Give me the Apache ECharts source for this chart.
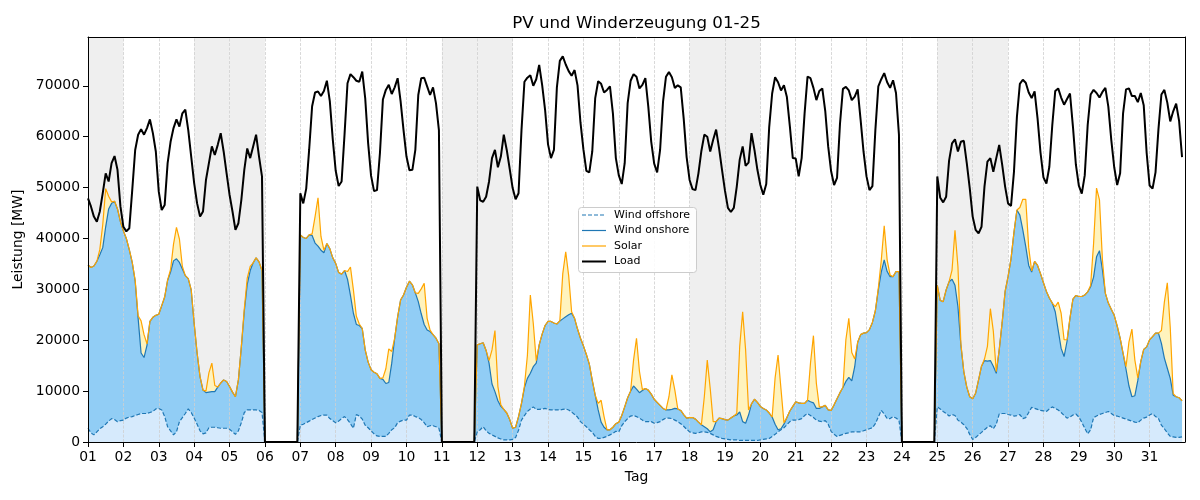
<!DOCTYPE html>
<html>
<head>
<meta charset="utf-8">
<script src="https://cdn.jsdelivr.net/npm/echarts@6/dist/echarts.min.js"></script>
<style>
html,body{margin:0;padding:0;background:#fff;}
#chart{width:1200px;height:500px;}
</style>
</head>
<body>
<div id="chart"></div>
<script>
// ---------- data (values in 1000 MW, one value every 2 hours, 12 per day) ----------
const dayLabels = ['01','02','03','04','05','06','07','08','09','10','11','12','13','14','15','16',
                   '17','18','19','20','21','22','23','24','25','26','27','28','29','30','31'];
const shadedDays = [1, 4, 5, 11, 12, 18, 19, 25, 26];
const yTicks = [0, 10000, 20000, 30000, 40000, 50000, 60000, 70000];
const seriesNames = ['Wind offshore', 'Wind onshore', 'Solar', 'Load'];

const windOffshore = [
 2.7,1.8,1.4,2.0,2.6,3.0,3.5,4.1,4.6,4.4,4.0,4.2,
 4.3,4.7,4.9,5.0,5.2,5.4,5.6,5.6,5.6,5.8,6.0,6.5,
 6.6,6.3,5.0,3.0,2.2,1.4,2.0,4.0,4.8,5.6,6.5,5.8,
 4.7,3.5,2.2,1.6,1.8,2.8,2.9,2.9,2.8,2.7,2.7,2.7,
 2.5,2.0,1.5,2.2,3.8,5.8,6.3,6.3,6.3,6.3,6.2,5.8,
 0,0,0,0,0,0,0,0,0,0,0,0,
 3.3,3.5,3.8,4.1,4.4,4.7,5.0,5.2,5.3,5.3,4.6,4.2,
 3.8,4.1,4.6,5.0,4.4,3.6,2.7,5.4,5.1,4.5,3.3,2.8,
 2.2,1.6,1.2,1.1,1.1,1.1,1.7,2.4,2.8,3.8,4.1,4.3,
 4.3,5.3,5.3,5.0,4.8,4.4,3.8,3.0,3.2,3.2,3.0,2.7,
 0,0,0,0,0,0,0,0,0,0,0,0,
 2.0,2.4,3.0,2.2,1.7,1.4,1.1,0.8,0.6,0.4,0.4,0.4,
 0.5,0.9,2.3,4.3,5.2,6.0,6.5,6.9,6.4,6.4,6.5,6.6,
 6.4,6.3,6.3,6.3,6.3,6.4,6.5,6.3,5.9,5.4,4.9,4.0,
 3.5,3.0,2.4,1.9,1.1,0.7,0.7,0.9,1.1,1.4,1.7,2.1,
 2.0,3.2,4.0,4.6,5.1,5.2,5.0,4.7,4.3,4.0,4.0,4.0,
 3.7,3.8,4.0,4.4,4.7,4.7,4.6,4.3,4.0,3.6,3.1,2.5,
 2.0,1.8,1.7,1.8,2.0,2.0,1.9,1.7,1.4,1.1,0.9,0.7,
 0.6,0.5,0.4,0.4,0.4,0.3,0.3,0.3,0.3,0.3,0.3,0.3,
 0.4,0.5,0.6,0.7,1.1,1.5,2.0,2.4,2.8,3.4,4.0,4.3,
 4.3,4.4,4.6,5.2,5.6,5.2,4.8,4.3,4.1,4.0,4.2,3.5,
 2.1,1.5,1.1,1.3,1.5,1.7,1.8,2.0,2.0,2.0,2.0,2.2,
 2.4,2.6,2.8,3.6,4.9,6.2,5.5,4.6,4.6,5.0,4.7,4.3,
 0,0,0,0,0,0,0,0,0,0,0,0,
 6.9,6.5,6.0,5.6,5.1,5.4,5.2,4.3,3.9,3.4,2.7,1.5,
 0.5,0.9,1.4,1.9,2.4,2.9,3.2,2.6,3.5,5.5,5.6,5.6,
 5.4,5.3,5.1,5.2,5.4,4.6,4.8,5.8,6.8,6.6,6.4,6.2,
 6.1,6.0,6.5,6.9,6.6,6.3,5.8,5.2,4.7,4.9,5.3,5.5,
 4.9,3.9,2.7,1.6,2.4,4.8,5.1,5.4,5.6,5.8,6.0,5.6,
 5.2,5.1,4.9,4.7,4.5,4.3,4.1,3.9,3.8,4.3,4.7,4.9,
 5.3,5.6,5.0,4.6,3.3,2.6,1.8,1.1,1.0,0.9,0.9,1.0
];

const windOnshore = [
 32.1,32.5,33.2,33.5,34.2,35.2,38.8,41.7,42.3,42.9,41.8,39.1,
 37.2,35.3,32.9,30.3,26.4,18.9,11.9,11.0,13.4,17.9,18.5,18.4,
 18.5,20.5,23.5,28.8,31.2,34.2,34.0,31.3,29.2,27.1,25.6,24.1,
 18.6,14.0,10.6,8.6,7.9,7.0,7.0,7.0,8.0,8.9,9.5,9.2,
 8.4,7.8,7.4,10.0,14.9,19.9,24.7,27.4,28.9,29.9,29.2,27.9,
 0,0,0,0,0,0,0,0,0,0,0,0,
 37.4,36.7,36.2,36.6,36.2,34.4,33.5,32.5,31.9,33.7,33.4,32.0,
 31.3,29.2,28.4,28.7,27.6,25.2,22.6,17.7,17.8,17.8,14.8,12.9,
 12.0,12.1,12.2,11.4,11.2,10.4,10.0,13.1,17.6,20.8,23.8,24.6,
 26.1,26.3,25.6,24.3,22.8,20.8,19.3,19.0,18.5,17.9,17.4,16.6,
 0,0,0,0,0,0,0,0,0,0,0,0,
 17.1,16.9,16.5,15.8,13.8,10.0,8.8,7.3,6.4,6.0,5.3,4.0,
 2.2,2.0,2.7,3.3,5.5,6.5,7.0,7.9,9.1,12.7,14.7,16.3,
 17.3,17.4,17.1,16.9,17.5,17.8,18.1,18.7,19.4,18.9,17.3,16.4,
 15.4,14.2,12.9,10.2,8.1,5.6,3.2,2.0,1.3,1.0,1.2,1.5,
 1.9,2.0,2.9,4.1,4.9,5.8,5.4,5.0,5.8,6.5,6.2,5.4,
 4.7,4.0,3.2,2.2,1.6,1.6,1.8,2.3,2.5,2.6,2.3,2.2,
 2.8,3.0,2.8,2.1,1.4,1.0,0.7,0.3,1.0,2.9,3.8,3.9,
 3.8,3.8,4.3,4.7,4.9,5.6,3.7,3.4,5.0,7.2,8.1,7.5,
 6.6,6.1,5.7,5.0,3.8,2.0,0.4,0.2,0.7,1.4,2.1,2.7,
 3.6,3.3,3.0,2.4,2.6,2.7,2.9,2.3,2.5,2.9,3.0,2.8,
 4.1,5.8,7.4,8.4,9.2,10.2,10.9,10.0,12.8,17.6,19.1,19.2,
 19.1,19.5,20.7,22.2,25.0,27.2,30.3,28.9,27.9,27.5,28.8,29.2,
 0,0,0,0,0,0,0,0,0,0,0,0,
 23.9,21.3,21.6,24.3,26.4,26.6,25.6,22.3,15.1,10.4,8.1,7.4,
 8.0,8.7,10.8,13.0,13.6,13.0,12.8,12.3,10.0,12.6,17.9,24.0,
 27.1,30.7,36.1,40.4,39.2,37.1,33.6,28.9,26.6,28.9,28.3,26.9,
 25.2,23.6,21.8,20.4,19.0,15.7,12.6,11.6,15.1,19.5,22.8,23.3,
 23.7,24.7,26.2,27.9,28.1,27.6,31.3,32.2,28.2,23.4,21.3,20.5,
 19.7,17.7,15.5,12.7,9.8,6.7,4.8,5.2,8.3,11.5,13.5,13.8,
 14.8,15.1,16.4,16.8,16.1,13.9,12.7,11.4,8.2,8.0,7.8,7.1
];

const solar = [
 0,0,0,0,1.0,4.5,7.5,2.5,0.3,0,0,0,
 0,0,0,0,0.2,0.5,6.3,4.5,0.3,0,0,0,
 0,0,0,0,0.5,3.3,6.2,4.6,0.5,0,0,0,
 0,0,0,0,0.3,3.8,5.6,1.2,0,0,0,0,
 0,0,0,0,0,0.5,1.2,0.8,0,0,0,0,
 0,0,0,0,0,0,0,0,0,0,0,0,
 0,0,0,0,0.3,5.2,9.5,2.7,0.5,0,0,0,
 0,0,0,0,1.5,5.6,4.6,1.6,0.3,0,0,0,
 0,0,0,0,0.3,2.9,6.6,2.3,0,0,0,0,
 0,0,0,0,1.6,4.9,8.1,2.3,0.3,0,0,0,
 0,0,0,0,0,0,0,0,0,0,0,0,
 0,0,0,0,0.5,6.7,12.0,2.8,0.3,0,0,0,
 0,0,0,0,0.3,4.5,15.4,8.5,0.5,0,0,0,
 0,0,0,0,0,8.9,12.8,7.7,0.3,0,0,0,
 0,0,0,0,0,1.3,4.3,2.1,0,0,0,0,
 0,0,0,0,0,5.1,10.0,4.2,0.2,0,0,0,
 0,0,0,0,0,2.6,6.8,3.6,0,0,0,0,
 0,0,0,0,0,5.9,13.5,8.5,1.6,0,0,0,
 0,0,0,0,0.3,12.9,21.6,14.4,1.0,0,0,0,
 0,0,0,0,0,9.1,14.7,7.8,0.3,0,0,0,
 0,0,0,0,0,7.6,13.2,4.9,0.3,0,0,0,
 0,0,0,0,0,8.2,11.6,5.6,1.5,0,0,0,
 0,0,0,0,0.3,2.3,6.7,2.3,0.3,0,0,0,
 0,0,0,0,0,0,0,0,0,0,0,0,
 0,0,0,0,0,1.8,10.8,7.9,0.3,0,0,0,
 0,0,0,0,0.3,2.9,10.2,6.9,0.3,0,0,0,
 0,0,0,0,1.5,6.0,9.3,3.5,0.2,0,0,0,
 0,0,0,0,1.0,5.5,6.9,3.3,0.3,0,0,0,
 0,0,0,0,0.3,6.6,13.5,10.0,2.0,0,0,0,
 0,0,0,0,0.5,8.7,13.3,7.0,0.5,0,0,0,
 0,0,0,0,2.5,11.0,16.8,10.0,0.3,0,0,0
];

const load = [
 47.9,46.3,44.3,43.3,45.3,48.9,52.8,51.2,54.8,56.2,53.5,46.3,
 42.3,41.4,42.0,49.5,57.4,60.4,61.5,60.4,61.7,63.4,60.7,57.1,
 49.2,45.6,46.6,54.8,59.0,61.7,63.4,62.0,64.6,65.3,61.3,56.1,
 50.9,46.9,44.3,45.3,51.5,54.8,58.1,56.4,58.4,60.7,57.1,52.8,
 48.6,45.3,41.7,43.0,47.6,53.5,57.7,55.8,58.1,60.4,56.1,52.2,
 0,0,0,0,0,0,0,0,0,0,0,0,
 48.9,46.9,49.8,57.5,66.0,68.7,68.9,68.0,69.0,71.0,67.0,59.5,
 53.3,50.3,51.2,60.5,70.5,72.3,71.7,71.0,70.8,72.8,67.6,58.7,
 52.3,49.3,49.5,56.8,67.3,69.2,70.2,68.4,69.7,71.5,67.0,61.3,
 56.1,53.4,53.5,57.4,68.2,71.5,71.6,69.9,68.2,69.7,66.6,61.3,
 0,0,0,0,0,0,0,0,0,0,0,0,
 50.2,47.5,47.2,48.2,51.2,55.8,57.4,54.0,56.1,60.4,57.4,53.7,
 49.9,47.7,48.9,61.3,70.8,71.6,72.1,70.0,71.3,74.1,70.2,65.3,
 58.5,55.8,57.4,69.7,74.9,75.8,74.2,72.9,72.0,73.1,70.1,62.8,
 57.5,53.3,53.0,57.1,67.6,70.9,70.4,68.7,69.2,69.9,64.6,55.8,
 52.4,50.7,54.8,66.6,71.0,72.3,71.8,69.5,70.2,71.5,65.9,59.0,
 54.7,53.0,57.4,66.9,71.8,72.7,71.7,69.6,70.1,69.7,63.6,56.0,
 51.5,49.7,49.5,52.8,57.2,60.4,60.0,57.1,59.4,61.4,57.7,53.5,
 49.4,46.0,45.2,46.0,50.2,55.5,58.1,54.3,54.9,60.7,57.4,53.5,
 50.5,48.6,50.7,61.9,68.5,71.7,70.7,69.1,70.1,67.8,62.1,55.8,
 55.7,52.2,55.8,64.6,71.8,71.5,69.6,67.2,69.0,69.5,65.1,58.1,
 53.2,50.5,51.9,62.5,69.4,69.8,69.1,67.2,67.9,69.3,63.3,57.0,
 52.2,49.5,50.3,61.3,69.9,71.3,72.5,70.7,69.6,71.1,68.6,60.4,
 0,0,0,0,0,0,0,0,0,0,0,0,
 52.2,48.0,47.1,48.2,55.3,58.7,59.5,57.1,59.0,59.2,54.8,49.9,
 44.3,41.7,41.0,42.3,50.2,55.1,55.8,53.1,55.8,58.4,54.5,50.2,
 46.9,46.4,53.1,63.9,70.4,71.2,70.6,68.7,67.6,68.9,63.6,56.9,
 52.0,50.8,54.1,62.3,69.0,69.5,67.7,66.3,67.4,68.5,62.0,54.5,
 50.4,48.8,52.4,62.3,68.3,69.2,68.6,67.7,68.8,69.6,65.9,59.4,
 54.0,50.5,52.8,64.6,69.3,69.5,68.0,68.0,66.8,68.6,66.2,56.8,
 50.4,49.8,53.0,61.5,68.3,69.2,66.7,63.0,65.0,66.5,63.1,56.0
];

// ---------- chart ----------
const FONT = 'DejaVu Sans';
const STEP_H = 2;                 // hours between samples
const HOURS_PER_DAY = 24;
const X_MAX = dayLabels.length * HOURS_PER_DAY;
const dayTicks = dayLabels.map((_, i) => i * HOURS_PER_DAY);

// cumulative (stacked) levels, like a stackplot
const cumWind = windOffshore.map((v, i) => v + windOnshore[i]);
const cumAll = cumWind.map((v, i) => v + solar[i]);
const toPairs = arr => arr.map((v, i) => [i * STEP_H, Math.round(v * 1000)]);

const shadeAreas = shadedDays.map(d => [
  { xAxis: (d - 1) * HOURS_PER_DAY }, { xAxis: d * HOURS_PER_DAY }
]);
const gridLines = dayTicks.slice(1).map(x => ({ xAxis: x }));

const COLORS = { off: '#1f77b4', on: '#1f77b4', solar: '#ffa500', load: '#000000',
                 offFill: '#d6eafc', onFill: '#91cdf5', solarFill: '#fff3bd' };

const base = { type: 'line', symbol: 'none', showSymbol: false, animation: false,
               silent: true, emphasis: { disabled: true } };
const fill = (name, data, color, extra) => Object.assign({}, base, {
  name, data: toPairs(data), z: 2,
  lineStyle: { width: 0, opacity: 0 },
  areaStyle: { color, opacity: 1 }
}, extra || {});
const line = (name, data, color, width, type, z) => Object.assign({}, base, {
  name, data: toPairs(data), z,
  itemStyle: { color },
  lineStyle: { color, width, type }
});

// legend drawn as graphic (line sample + real text)
const LG = { x: 578, y: 207, w: 118, h: 65, rowY: [215, 230.5, 246, 261.5] };
const legendStyles = [
  { color: COLORS.off, width: 1.2, dash: [4, 2] },
  { color: COLORS.on, width: 1.2, dash: null },
  { color: COLORS.solar, width: 1.2, dash: null },
  { color: COLORS.load, width: 2, dash: null }
];
const legendGraphic = [{
  type: 'rect', z: 50,
  shape: { x: LG.x + 0.5, y: LG.y + 0.5, width: LG.w, height: LG.h, r: 3 },
  style: { fill: 'rgba(255,255,255,0.85)', stroke: '#cccccc', lineWidth: 1 }
}];
seriesNames.forEach((n, i) => {
  const st = legendStyles[i];
  legendGraphic.push({
    type: 'line', z: 51,
    shape: { x1: 582, y1: LG.rowY[i], x2: 606, y2: LG.rowY[i] },
    style: { stroke: st.color, lineWidth: st.width, lineDash: st.dash }
  });
  legendGraphic.push({
    type: 'text', z: 51, x: 614, y: LG.rowY[i],
    style: { text: n, font: '11px "DejaVu Sans"', fill: '#000', textVerticalAlign: 'middle' }
  });
});

const chart = echarts.init(document.getElementById('chart'), null, { renderer: 'canvas' });

chart.setOption({
  animation: false,
  textStyle: { fontFamily: FONT },
  graphic: [{
    type: 'text', x: 636.5, y: 15, z: 100,
    style: { text: 'PV und Winderzeugung 01-25', font: '16.7px "DejaVu Sans"', fill: '#000',
             textAlign: 'center', textVerticalAlign: 'top' }
  }].concat(legendGraphic),
  grid: { left: 88, right: 15, top: 37, bottom: 58, show: false },
  xAxis: [{
    type: 'value', min: 0, max: X_MAX, z: 10,
    name: 'Tag', nameLocation: 'middle', nameGap: 28,
    nameTextStyle: { fontFamily: FONT, fontSize: 13.9, color: '#000' },
    axisLine: { show: true, onZero: false, lineStyle: { color: '#000', width: 1 } },
    axisTick: { show: true, length: 5, lineStyle: { color: '#000', width: 1 }, customValues: dayTicks },
    axisLabel: { fontFamily: FONT, fontSize: 13.9, color: '#000', margin: 8,
                 customValues: dayTicks, formatter: v => dayLabels[Math.round(v / HOURS_PER_DAY)] || '' },
    splitLine: { show: false }
  }, {
    type: 'value', min: 0, max: X_MAX, position: 'top', z: 10,
    axisLine: { show: true, onZero: false, lineStyle: { color: '#000', width: 1 } },
    axisTick: { show: false }, axisLabel: { show: false }, splitLine: { show: false }
  }],
  yAxis: [{
    type: 'value', min: 0, max: 79600, z: 10,
    name: 'Leistung [MW]', nameLocation: 'middle', nameGap: 57, nameRotate: 90,
    nameTextStyle: { fontFamily: FONT, fontSize: 13.9, color: '#000' },
    axisLine: { show: true, onZero: false, lineStyle: { color: '#000', width: 1 } },
    axisTick: { show: true, length: 5, lineStyle: { color: '#000', width: 1 }, customValues: yTicks },
    axisLabel: { fontFamily: FONT, fontSize: 13.9, color: '#000', margin: 8, customValues: yTicks,
                 formatter: v => String(v) },
    splitLine: { show: false }
  }, {
    type: 'value', min: 0, max: 79600, position: 'right', z: 10,
    axisLine: { show: true, onZero: false, lineStyle: { color: '#000', width: 1 } },
    axisTick: { show: false }, axisLabel: { show: false }, splitLine: { show: false }
  }],
  series: [
    fill('solarFill', cumAll, COLORS.solarFill, {
      markArea: { silent: true, z: 1, itemStyle: { color: '#efefef', borderWidth: 0 }, data: shadeAreas }
    }),
    fill('onshoreFill', cumWind, COLORS.onFill),
    fill('offshoreFill', windOffshore, COLORS.offFill),
    line(seriesNames[0], windOffshore, COLORS.off, 1.2, [4, 2], 4),
    line(seriesNames[1], cumWind, COLORS.on, 1.2, 'solid', 4),
    line(seriesNames[2], cumAll, COLORS.solar, 1.2, 'solid', 4),
    Object.assign(line(seriesNames[3], load, COLORS.load, 2, 'solid', 5), {
      markLine: {
        silent: true, z: 3, symbol: ['none', 'none'], label: { show: false },
        lineStyle: { color: '#cfcfcf', width: 0.8, type: [3, 1.5] },
        emphasis: { disabled: true },
        data: gridLines
      }
    })
  ]
});
</script>
</body>
</html>
